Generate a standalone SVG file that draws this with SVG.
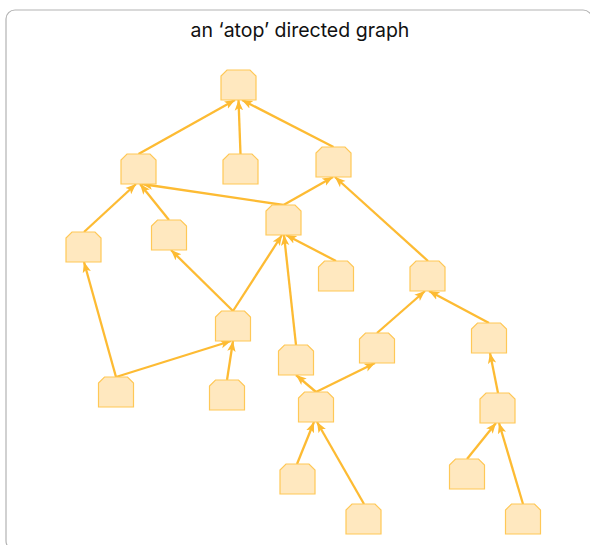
<svg xmlns="http://www.w3.org/2000/svg" width="590" height="545" viewBox="0 0 590 545">
<style>
.frame{fill:#fff;stroke:#b3b3b3;stroke-width:1.2}
.title{font-family:Inter,"Noto Sans","Liberation Sans",sans-serif;font-size:19.5px;fill:#111;text-anchor:middle}
.node use{fill:#ffe8bf;stroke:#ffc857;stroke-width:1.2}
.edges line{stroke:#fdbb33;stroke-width:2.3;marker-end:url(#arr)}
</style>
<defs>
<path id="nd" d="M6,0 L29,0 L35,6 L35,30 L0,30 L0,6 Z"/>
<marker id="arr" markerUnits="userSpaceOnUse" markerWidth="12" markerHeight="10" viewBox="0 0 12 10" refX="10.5" refY="5" orient="auto">
<path d="M0,0.8 L10.5,5 L0,9.2 L2.5,5 Z" fill="#fdbb33"/>
</marker>
</defs>
<rect class="frame" x="6" y="10" width="586" height="540" rx="9"/>
<text class="title" x="300" y="37">an ‘atop’ directed graph</text>
<g class="edges">
<line x1="138.5" y1="154" x2="235" y2="100"/>
<line x1="240.5" y1="154" x2="238.5" y2="100"/>
<line x1="333.5" y1="147" x2="242" y2="100"/>
<line x1="283.5" y1="205" x2="142" y2="184"/>
<line x1="283.5" y1="205" x2="333" y2="177"/>
<line x1="84" y1="232" x2="136" y2="184"/>
<line x1="169" y1="220" x2="140" y2="184"/>
<line x1="336" y1="261" x2="286" y2="235"/>
<line x1="233" y1="311" x2="171" y2="250"/>
<line x1="233" y1="311" x2="282" y2="235"/>
<line x1="296" y1="345" x2="284" y2="235"/>
<line x1="116" y1="377" x2="84" y2="262"/>
<line x1="116" y1="377" x2="231" y2="341"/>
<line x1="227" y1="380" x2="233" y2="341"/>
<line x1="428" y1="261" x2="335" y2="177"/>
<line x1="377" y1="333" x2="425" y2="291"/>
<line x1="489" y1="323" x2="429" y2="291"/>
<line x1="316" y1="392" x2="296" y2="375"/>
<line x1="316" y1="392" x2="375" y2="363"/>
<line x1="297" y1="464" x2="314" y2="422"/>
<line x1="364" y1="504" x2="317" y2="422"/>
<line x1="498" y1="393" x2="490" y2="353"/>
<line x1="467" y1="459" x2="496" y2="423"/>
<line x1="523" y1="504" x2="499" y2="423"/>
</g>
<g id="n0" class="node"><use href="#nd" x="221" y="70"/></g>
<g id="nA" class="node"><use href="#nd" x="121" y="154"/></g>
<g id="nB" class="node"><use href="#nd" x="223" y="154"/></g>
<g id="nC" class="node"><use href="#nd" x="316" y="147"/></g>
<g id="nD" class="node"><use href="#nd" x="266" y="205"/></g>
<g id="nE" class="node"><use href="#nd" x="66" y="232"/></g>
<g id="nF" class="node"><use href="#nd" x="151.5" y="220"/></g>
<g id="nG" class="node"><use href="#nd" x="318.5" y="261"/></g>
<g id="nH" class="node"><use href="#nd" x="215.5" y="311"/></g>
<g id="nI" class="node"><use href="#nd" x="98.5" y="377"/></g>
<g id="nJ" class="node"><use href="#nd" x="209.5" y="380"/></g>
<g id="nK" class="node"><use href="#nd" x="278.5" y="345"/></g>
<g id="nL" class="node"><use href="#nd" x="298.5" y="392"/></g>
<g id="nM" class="node"><use href="#nd" x="359.5" y="333"/></g>
<g id="nN" class="node"><use href="#nd" x="410" y="261"/></g>
<g id="nO" class="node"><use href="#nd" x="471.5" y="323"/></g>
<g id="nP" class="node"><use href="#nd" x="480" y="393"/></g>
<g id="nQ" class="node"><use href="#nd" x="449.5" y="459"/></g>
<g id="nR" class="node"><use href="#nd" x="505.5" y="504"/></g>
<g id="nS" class="node"><use href="#nd" x="280" y="464"/></g>
<g id="nT" class="node"><use href="#nd" x="346" y="504"/></g>
</svg>
